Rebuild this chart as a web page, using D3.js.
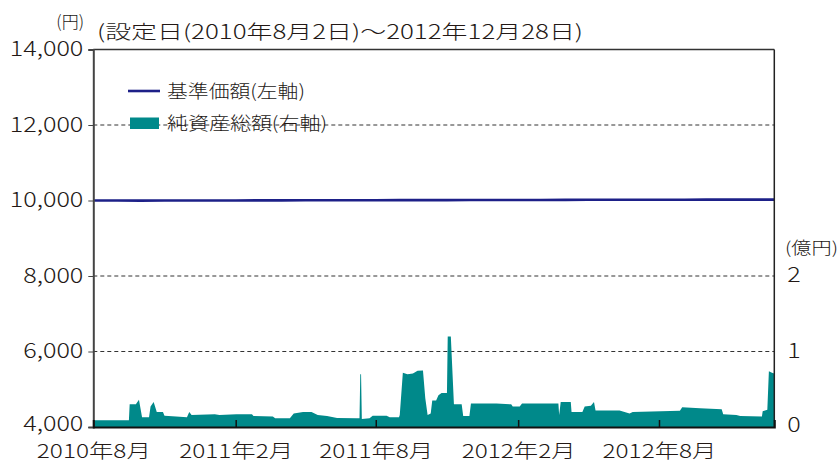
<!DOCTYPE html>
<html><head><meta charset="utf-8">
<script src="https://cdn.jsdelivr.net/npm/d3@7"></script>
<style>
body{margin:0;background:#fff;}
svg text{font-family:"Noto Sans CJK JP","Noto Sans",sans-serif;fill:#231815;font-weight:300;}
</style></head><body>
<svg id="chart" width="839" height="462"></svg>
<script>
// 基準価額（円）
const navDates = ["2010-08-02","2010-09-01","2010-10-01","2010-11-01","2010-12-01","2011-01-04","2011-02-01","2011-03-01","2011-04-01","2011-05-02","2011-06-01","2011-07-01","2011-08-01","2011-09-01","2011-10-03","2011-11-01","2011-12-01","2012-01-04","2012-02-01","2012-03-01","2012-04-02","2012-05-01","2012-06-01","2012-07-02","2012-08-01","2012-09-03","2012-10-01","2012-11-01","2012-12-03","2012-12-28"];
const navValues = [10000,10000,9998,10000,10001,10002,10002,10003,10004,10005,10005,10006,10008,10009,10010,10011,10012,10014,10015,10015,10016,10018,10018,10019,10020,10021,10022,10022,10023,10024];
// 純資産総額（億円）
const aumDates = ["2010-08-02","2010-09-16","2010-09-17","2010-09-25","2010-09-29","2010-10-03","2010-10-12","2010-10-14","2010-10-18","2010-10-22","2010-10-30","2010-11-01","2010-11-16","2010-11-30","2010-12-03","2010-12-06","2011-01-05","2011-01-11","2011-02-02","2011-02-22","2011-02-24","2011-03-21","2011-03-24","2011-04-12","2011-04-17","2011-04-29","2011-05-10","2011-05-18","2011-05-30","2011-06-12","2011-07-07","2011-07-11","2011-07-12","2011-07-13","2011-07-14","2011-07-24","2011-07-28","2011-08-15","2011-08-19","2011-08-31","2011-09-01","2011-09-05","2011-09-11","2011-09-18","2011-09-24","2011-10-01","2011-10-04","2011-10-07","2011-10-11","2011-10-13","2011-10-18","2011-10-21","2011-10-25","2011-11-01","2011-11-02","2011-11-06","2011-11-10","2011-11-20","2011-11-22","2011-11-30","2011-12-02","2012-01-04","2012-01-23","2012-01-25","2012-02-03","2012-02-06","2012-03-24","2012-03-25","2012-03-27","2012-04-09","2012-04-10","2012-04-24","2012-04-27","2012-05-05","2012-05-09","2012-05-11","2012-06-11","2012-06-24","2012-06-28","2012-08-28","2012-08-31","2012-09-23","2012-10-21","2012-10-23","2012-11-09","2012-11-14","2012-12-12","2012-12-13","2012-12-19","2012-12-21","2012-12-25","2012-12-28"];
const aumValues = [0.09,0.09,0.30,0.30,0.36,0.13,0.13,0.27,0.33,0.20,0.20,0.15,0.14,0.13,0.20,0.16,0.17,0.16,0.17,0.17,0.145,0.14,0.115,0.115,0.18,0.20,0.20,0.16,0.145,0.12,0.115,0.115,0.70,0.70,0.105,0.115,0.15,0.15,0.13,0.13,0.16,0.72,0.70,0.71,0.745,0.75,0.38,0.16,0.18,0.35,0.35,0.42,0.45,0.45,1.20,1.20,0.30,0.30,0.145,0.145,0.31,0.31,0.30,0.27,0.27,0.31,0.31,0.16,0.33,0.33,0.20,0.20,0.27,0.28,0.33,0.22,0.22,0.18,0.20,0.215,0.26,0.25,0.235,0.17,0.16,0.145,0.14,0.21,0.23,0.74,0.72,0.71];
const leftTicks = [4000,6000,8000,10000,12000,14000];
const gridTicks = [6000,8000,10000,12000];
const rightTicks = [0,1,2];
const xTickDates = ["2010-08-01","2011-02-01","2011-08-01","2012-02-01","2012-08-01"];
const xTickLabels = ["2010年8月","2011年2月","2011年8月","2012年2月","2012年8月"];
const titleText = "(設定日(2010年8月2日)～2012年12月28日)";
const leftUnit = "(円)";
const rightUnit = "(億円)";
const legendNames = ["基準価額(左軸)","純資産総額(右軸)"];

const parse = d3.timeParse("%Y-%m-%d");
const nav = navDates.map((d,i)=>({date:parse(d), v:navValues[i]}));
const aum = aumDates.map((d,i)=>({date:parse(d), v:aumValues[i]}));

const L = 93.3, R = 774.3, T = 49.5, B = 427;
const svg = d3.select("#chart");
const x = d3.scaleTime().domain([parse("2010-08-01"), parse("2012-12-28")]).range([L, R]);
const yL = d3.scaleLinear().domain([4000,14000]).range([B, T]);
const yR = d3.scaleLinear().domain([0,5]).range([B, T]);

const NAVY = "#1d2088", TEAL = "#00898a";

function stretch(sel, k){
  sel.each(function(){
    const w = this.getComputedTextLength();
    d3.select(this).attr("textLength", w*k).attr("lengthAdjust","spacingAndGlyphs");
  });
}
function fitTo(sel, w){
  sel.attr("textLength", w).attr("lengthAdjust","spacingAndGlyphs");
}

// grid
svg.append("g").selectAll("line").data(gridTicks).join("line")
  .attr("x1", L).attr("x2", R).attr("y1", d=>yL(d)).attr("y2", d=>yL(d))
  .attr("stroke", "#333").attr("stroke-width", 1).attr("stroke-dasharray", "4,3");

// area
svg.append("path").datum(aum)
  .attr("fill", TEAL)
  .attr("d", d3.area().x(d=>x(d.date)).y0(yR(0)).y1(d=>yR(d.v)));

// nav line
svg.append("path").datum(nav)
  .attr("fill", "none").attr("stroke", NAVY).attr("stroke-width", 2.6)
  .attr("d", d3.line().x(d=>x(d.date)).y(d=>yL(d.v)));

// frame
svg.append("line").attr("x1",L).attr("x2",R).attr("y1",T).attr("y2",T).attr("stroke","#333").attr("stroke-width",1.5);
svg.append("line").attr("x1",R).attr("x2",R).attr("y1",T).attr("y2",B).attr("stroke","#222").attr("stroke-width",1.5);

// left axis
const axL = d3.axisLeft(yL).tickValues(leftTicks).tickFormat(d3.format(",")).tickSize(5).tickPadding(5);
const gL = svg.append("g").attr("transform", `translate(${L},0)`).call(axL);
gL.select(".domain").attr("stroke","#444").attr("stroke-width",2);
gL.selectAll(".tick line").attr("stroke","#444");
gL.selectAll(".tick text").attr("font-size",21.5).attr("font-family",null).attr("fill","#231815").attr("dy","0.28em");
gL.selectAll(".tick text").filter(d=>d===4000).attr("dy","0.14em");
stretch(gL.selectAll(".tick text"), 1.17);

// right axis labels
const axR = d3.axisRight(yR).tickValues(rightTicks).tickFormat(d3.format("d")).tickSize(0).tickPadding(13);
const gR = svg.append("g").attr("transform", `translate(${R},0)`).call(axR);
gR.select(".domain").remove();
gR.selectAll(".tick text").attr("font-size",21).attr("font-family",null).attr("fill","#231815").attr("dy","0.28em");
gR.selectAll(".tick text").filter(d=>d===0).attr("dy","0.2em");
stretch(gR.selectAll(".tick text"), 1.2);

// bottom axis
const axB = d3.axisBottom(x).tickValues(xTickDates.map(parse)).tickFormat((d,i)=>xTickLabels[i]).tickSize(-7).tickPadding(15);
const gB = svg.append("g").attr("transform", `translate(0,${B})`).call(axB);
gB.select(".domain").attr("stroke","#111").attr("stroke-width",2);
gB.selectAll(".tick line").attr("stroke","#111").attr("stroke-width",1.5).filter((d,i)=>i===0).remove();
gB.selectAll(".tick text").attr("font-size",19).attr("font-family",null).attr("fill","#231815").attr("y",30.5).attr("dy",0);
fitTo(gB.selectAll(".tick text"), 114);

// texts
svg.append("text").attr("x",84).attr("y",28).attr("text-anchor","end").attr("font-size",17).text(leftUnit);
fitTo(svg.append("text").attr("x",97).attr("y",39).attr("font-size",19.5).text(titleText), 486);
fitTo(svg.append("text").attr("x",785).attr("y",253.5).attr("font-size",16.5).text(rightUnit), 53);

// legend
svg.append("line").attr("x1",128).attr("x2",160).attr("y1",91).attr("y2",91).attr("stroke",NAVY).attr("stroke-width",2.6);
svg.append("rect").attr("x",130).attr("y",117.5).attr("width",29).attr("height",11.5).attr("fill",TEAL);
fitTo(svg.append("text").attr("x",167).attr("y",97.5).attr("font-size",18).text(legendNames[0]), 138);
fitTo(svg.append("text").attr("x",167).attr("y",129.5).attr("font-size",18).text(legendNames[1]), 160);
</script>
</body></html>
